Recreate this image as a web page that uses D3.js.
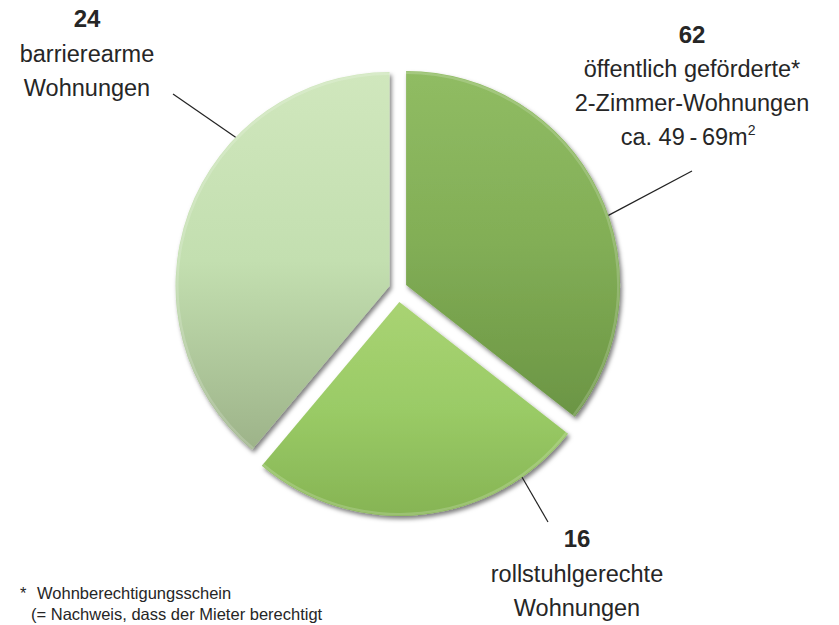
<!DOCTYPE html>
<html>
<head>
<meta charset="utf-8">
<script src="https://cdn.jsdelivr.net/npm/d3@7"></script>
<style>
  html, body { margin: 0; padding: 0; background: #ffffff; }
  svg { display: block; }
  text { font-family: "Liberation Sans", Arial, Helvetica, sans-serif; fill: #262626; }
</style>
</head>
<body>
<svg id="chart" width="839" height="625"></svg>
<script>
// ---- data ----
const categories = ["öffentlich geförderte 2-Zimmer-Wohnungen", "rollstuhlgerechte Wohnungen", "barrierearme Wohnungen"];
const counts = [62, 16, 24];
// angular share of each slice as drawn in the picture (degrees, estimated)
const sliceShares = [128, 92, 140];
const labelLines = [
  ["öffentlich geförderte*", "2-Zimmer-Wohnungen", "ca. 49\u2009-\u200969m"],
  ["rollstuhlgerechte", "Wohnungen"],
  ["barrierearme", "Wohnungen"]
];
const footnoteLines = ["Wohnberechtigungsschein", "(= Nachweis, dass der Mieter berechtigt"];

// ---- layout ----
const cx = 398, cy = 289, R = 214;
const explode = [9, 13, 9];
const gradStops = [
  ["#90bc63", "#82ae56", "#6b9544"],
  ["#a9d373", "#9acb66", "#86b454"],
  ["#d0e7bd", "#c3dfb0", "#9db389"]
];
const labelPos = [{x: 692, y: 43}, {x: 577, y: 547}, {x: 87, y: 27}];
const leaderAngleDeg = [71, 145, 314];
const leaderEnd = [{x: 692, y: 171}, {x: 548, y: 522}, {x: 173, y: 94}];

const svg = d3.select("#chart");
const defs = svg.append("defs");

const f = defs.append("filter").attr("id", "shadow")
  .attr("x", "-10%").attr("y", "-10%").attr("width", "130%").attr("height", "130%");
f.append("feDropShadow").attr("dx", 2).attr("dy", 3).attr("stdDeviation", 2.2)
  .attr("flood-color", "#000").attr("flood-opacity", 0.5);

const pie = d3.pie().sort(null).value(d => d).startAngle(0).endAngle(2 * Math.PI);
const arcs = pie(sliceShares);
const arc = d3.arc().innerRadius(0).outerRadius(R);

arcs.forEach((a, i) => {
  const g = defs.append("linearGradient").attr("id", "g" + i)
    .attr("x1", 0).attr("x2", 0).attr("y1", 0).attr("y2", 1);
  g.append("stop").attr("offset", "0%").attr("stop-color", gradStops[i][0]);
  g.append("stop").attr("offset", "50%").attr("stop-color", gradStops[i][1]);
  g.append("stop").attr("offset", "100%").attr("stop-color", gradStops[i][2]);
});

const offsets = arcs.map((a, i) => {
  const mid = (a.startAngle + a.endAngle) / 2;
  return {dx: explode[i] * Math.sin(mid), dy: -explode[i] * Math.cos(mid)};
});

svg.append("g").selectAll("path").data(arcs).join("path")
  .attr("transform", (d, i) => `translate(${cx + offsets[i].dx},${cy + offsets[i].dy})`)
  .attr("d", arc)
  .attr("fill", (d, i) => `url(#g${i})`)
  .attr("filter", "url(#shadow)");

// subtle light rim on the arcs
svg.append("g").selectAll("path").data(arcs).join("path")
  .attr("transform", (d, i) => `translate(${cx + offsets[i].dx},${cy + offsets[i].dy})`)
  .attr("d", d3.arc().innerRadius(R - 3).outerRadius(R - 0.5))
  .attr("fill", "#ffffff").attr("opacity", 0.18);

// leader lines
svg.append("g").selectAll("line").data(arcs).join("line")
  .attr("x1", (d, i) => cx + offsets[i].dx + R * Math.sin(leaderAngleDeg[i] * Math.PI / 180))
  .attr("y1", (d, i) => cy + offsets[i].dy - R * Math.cos(leaderAngleDeg[i] * Math.PI / 180))
  .attr("x2", (d, i) => leaderEnd[i].x)
  .attr("y2", (d, i) => leaderEnd[i].y)
  .attr("stroke", "#222").attr("stroke-width", 1.2);

// labels
const lineH = 34;
counts.forEach((c, i) => {
  const t = svg.append("text").attr("text-anchor", "middle");
  t.append("tspan").attr("x", labelPos[i].x).attr("y", labelPos[i].y)
    .attr("font-weight", "bold").attr("font-size", 24).text(c);
  labelLines[i].forEach((ln, j) => {
    t.append("tspan").attr("x", labelPos[i].x)
      .attr("y", labelPos[i].y + (j + 1) * lineH + (i === 0 ? 0 : 1))
      .attr("font-size", 23.5).text(ln);
    if (i === 0 && j === 2) {
      t.append("tspan").attr("dy", -10).attr("font-size", 14).text("2");
    }
  });
});
// the superscript makes the last line off-centre; shift it accordingly
(function () {
  const first = svg.selectAll("text").nodes()[0];
  const tsp = first.querySelectorAll("tspan");
  const sup = tsp[tsp.length - 1];
  const w = sup.getComputedTextLength();
  tsp[tsp.length - 2].setAttribute("x", labelPos[0].x - w / 2);
})();

// footnote
const fn = svg.append("text").attr("font-size", 16.5);
fn.append("tspan").attr("x", 20).attr("y", 599).text("*");
fn.append("tspan").attr("x", 37).attr("y", 599).text(footnoteLines[0]);
fn.append("tspan").attr("x", 31).attr("y", 620).text(footnoteLines[1]);
</script>
</body>
</html>
